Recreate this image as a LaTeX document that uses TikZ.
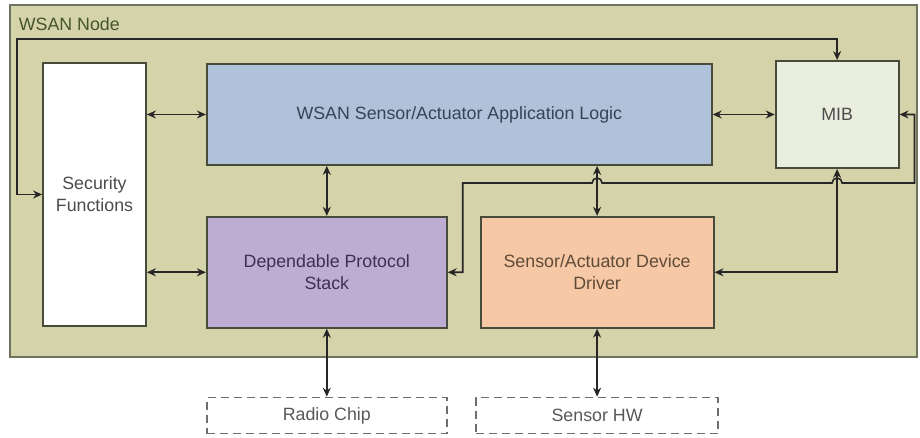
\documentclass[tikz,border=0pt]{standalone}
\usepackage{fontspec}
\setmainfont{Liberation Sans}
\usetikzlibrary{arrows.meta, calc, positioning}
\definecolor{nodefill}{RGB}{213,211,170}
\definecolor{outerline}{RGB}{110,115,95}
\definecolor{boxline}{RGB}{70,75,60}
\definecolor{appfill}{RGB}{176,194,218}
\definecolor{mibfill}{RGB}{234,238,222}
\definecolor{stackfill}{RGB}{190,172,210}
\definecolor{drvfill}{RGB}{246,200,166}
\definecolor{hwline}{RGB}{110,110,110}
\definecolor{labeltext}{RGB}{70,85,45}
\begin{document}
\begin{tikzpicture}[x=1pt,y=1pt,>={Stealth[length=9pt,width=8pt]},thick,
                    block/.style={rectangle,draw=boxline,line width=1.8pt,align=center,inner sep=0pt,
                                  text=black!70,font=\fontsize{17.8}{22}\selectfont},
                    hw block/.style={rectangle,draw=hwline,line width=1.8pt,dash pattern=on 8pt off 5pt,
                                     fill=white,minimum width=240pt,minimum height=36pt,inner sep=0pt,
                                     text=black!65,font=\fontsize{17.8}{22}\selectfont},
                    link/.style={<->,line width=1.6pt,black!85}]

  \useasboundingbox (0,0) rectangle (920,438);

  \node[rectangle,draw=outerline,line width=1.8pt,fill=nodefill,minimum width=907pt,minimum height=352pt] (wsan) at (463.5,257) {};
  \node[anchor=west,text=labeltext,font=\fontsize{17.8}{22}\selectfont] (wsanlabel) at ($(wsan.north west)+(6pt,-20pt)$) {WSAN Node};

  \node[block,fill=white,minimum width=103pt,minimum height=263pt] (sec) at (94.5,243.5) {Security\\Functions};
  \node[block,fill=appfill,minimum width=505pt,minimum height=101pt,anchor=north west,text={rgb,255:red,50;green,70;blue,85}] (app) at ($(sec.north east)+(59pt,-1pt)$) {WSAN Sensor/Actuator Application Logic};
  \node[block,fill=mibfill,minimum width=123pt,minimum height=107pt,right=62pt of app] (mib) {MIB};
  \node[block,fill=stackfill,minimum width=240pt,minimum height=111pt,below=50pt of app.south west,anchor=north west,text={rgb,255:red,60;green,50;blue,80}] (stack) {Dependable Protocol\\Stack};
  \node[block,fill=drvfill,minimum width=233pt,minimum height=111pt,right=32pt of stack,text={rgb,255:red,95;green,75;blue,55}] (drv) {Sensor/Actuator Device\\Driver};
  \node[hw block,below=68pt of stack] (radio) {Radio Chip};
  \node[hw block,minimum width=242pt,below=68pt of drv] (hw) {Sensor HW};

  \coordinate (bus) at (0,255);

  \draw[link] (sec.west) -- ++(-25pt,0) |- ($(mib.north)+(0,21pt)$) -- (mib.north);
  \draw[link] (sec.east |- app.west) -- (app.west);
  \draw[link] (sec.east |- stack.west) -- (stack.west);
  \draw[link] (app.east) -- (mib.west);
  \draw[link] (app.south -| stack.north) -- (stack.north);
  \draw[link] (app.south -| drv.north) -- (drv.north);
  \draw[link] (mib.south) |- (drv.east);
  \draw[link] (stack.east) -- ++(15pt,0) |- ($(drv.north |- bus)+(-5pt,0)$)
    arc[start angle=180,end angle=0,radius=5pt] -- ($(mib.south |- bus)+(-5pt,0)$)
    arc[start angle=180,end angle=0,radius=5pt] -- ($(mib.east |- bus)+(15pt,0)$) |- (mib.east);
  \draw[link] (stack.south) -- (radio.north);
  \draw[link] (drv.south) -- (hw.north);

\end{tikzpicture}
\end{document}
